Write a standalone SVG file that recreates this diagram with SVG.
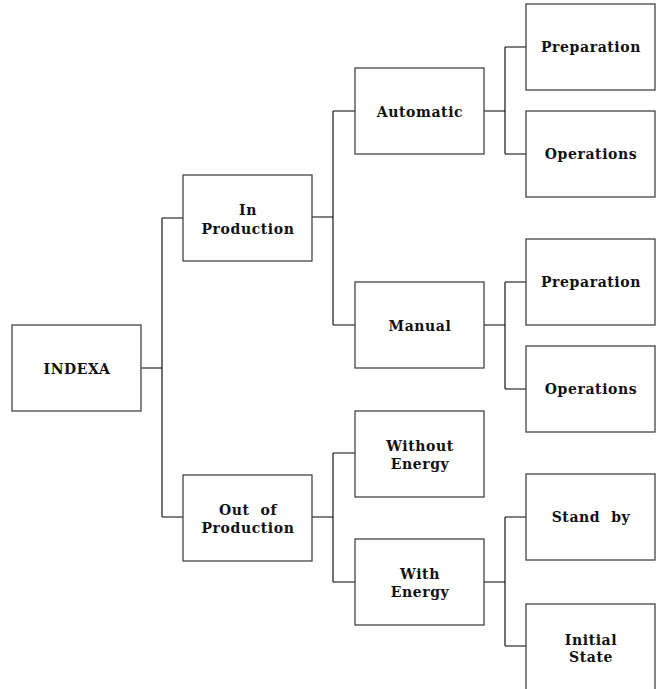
<svg xmlns="http://www.w3.org/2000/svg" width="658" height="689" viewBox="0 0 658 689">
<style>
.box{fill:#fff;stroke:#444;stroke-width:1.3}
.lbl{font-family:"DejaVu Serif",serif;font-size:14px;font-weight:bold;letter-spacing:0.6px;fill:#111;text-anchor:middle;white-space:pre}
.con{fill:none;stroke:#000;stroke-width:1.1}
</style>
<rect width="658" height="689" fill="#fff"/>
<g id="connectors" class="con">
<path d="M141 368H162M162 218V517M162 218H183M162 517H183"/>
<path d="M312 217H333M333 111V325M333 111H355M333 325H355"/>
<path d="M312 517H333M333 453V582M333 453H355M333 582H355"/>
<path d="M484 111H505M505 47V154M505 47H526M505 154H526"/>
<path d="M484 325H505M505 282V389M505 282H526M505 389H526"/>
<path d="M484 582H505M505 517V646M505 517H526M505 646H526"/>
</g>
<g id="indexa"><rect class="box" x="12" y="325" width="129" height="86"/><text class="lbl" x="77" y="374">INDEXA</text></g>
<g id="in-production"><rect class="box" x="183" y="175" width="129" height="86"/><text class="lbl" x="248" y="215">In</text><text class="lbl" x="248" y="234">Production</text></g>
<g id="out-of-production"><rect class="box" x="183" y="475" width="129" height="86"/><text class="lbl" x="248" y="515">Out  of</text><text class="lbl" x="248" y="533">Production</text></g>
<g id="automatic"><rect class="box" x="355" y="68" width="129" height="86"/><text class="lbl" x="420" y="117">Automatic</text></g>
<g id="manual"><rect class="box" x="355" y="282" width="129" height="86"/><text class="lbl" x="420" y="331">Manual</text></g>
<g id="without-energy"><rect class="box" x="355" y="411" width="129" height="86"/><text class="lbl" x="420" y="451">Without</text><text class="lbl" x="420" y="469">Energy</text></g>
<g id="with-energy"><rect class="box" x="355" y="539" width="129" height="86"/><text class="lbl" x="420" y="579">With</text><text class="lbl" x="420" y="597">Energy</text></g>
<g id="preparation-1"><rect class="box" x="526" y="4" width="129" height="86"/><text class="lbl" x="591" y="52">Preparation</text></g>
<g id="operations-1"><rect class="box" x="526" y="111" width="129" height="86"/><text class="lbl" x="591" y="159">Operations</text></g>
<g id="preparation-2"><rect class="box" x="526" y="239" width="129" height="86"/><text class="lbl" x="591" y="287">Preparation</text></g>
<g id="operations-2"><rect class="box" x="526" y="346" width="129" height="86"/><text class="lbl" x="591" y="394">Operations</text></g>
<g id="stand-by"><rect class="box" x="526" y="474" width="129" height="86"/><text class="lbl" x="591" y="522">Stand  by</text></g>
<g id="initial-state"><rect class="box" x="526" y="604" width="129" height="86"/><text class="lbl" x="591" y="645">Initial</text><text class="lbl" x="591" y="662">State</text></g>
</svg>
